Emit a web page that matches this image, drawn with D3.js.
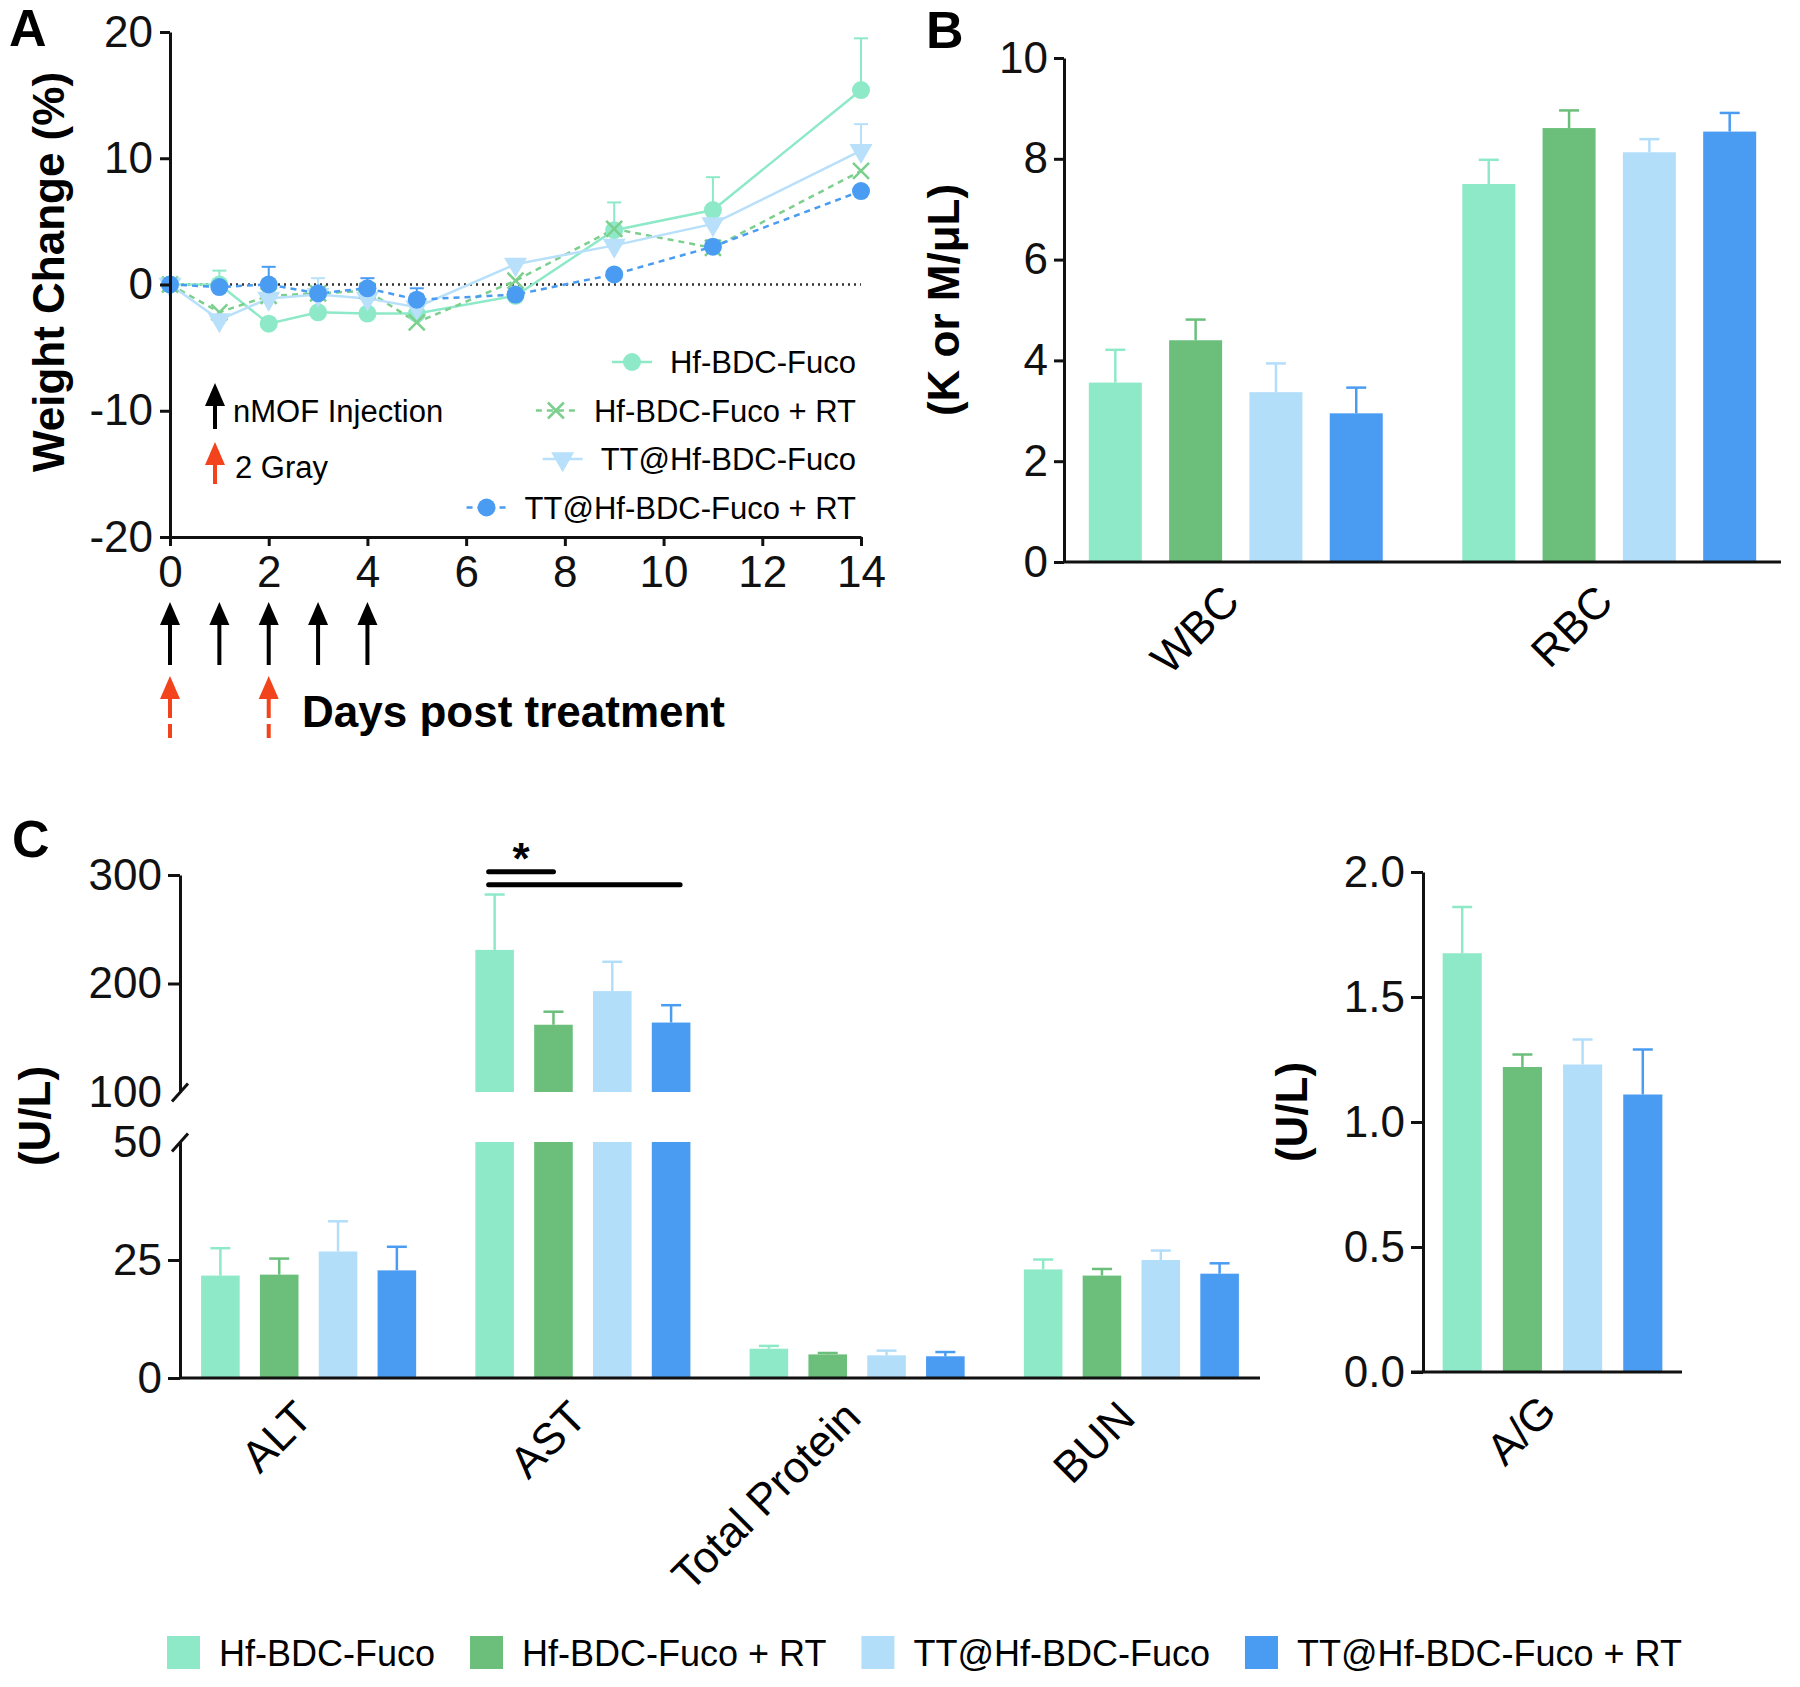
<!DOCTYPE html>
<html>
<head>
<meta charset="utf-8">
<script src="https://cdn.jsdelivr.net/npm/d3@7"></script>
<style>
  body { margin: 0; background: #fff; }
</style>
</head>
<body>
<svg id="chart" width="1800" height="1687"></svg>
<script>
const FONT = '"Liberation Sans", Arial, Helvetica, sans-serif';

const groups = ["Hf-BDC-Fuco", "Hf-BDC-Fuco + RT", "TT@Hf-BDC-Fuco", "TT@Hf-BDC-Fuco + RT"];
const groupColors = ["#8ee9c8", "#6bbf7b", "#b3defa", "#4a9cf2"];

// A - weight change (%)
const days = [0, 1, 2, 3, 4, 5, 7, 9, 11, 14];
const wtHf = [0, 0, -3.1, -2.2, -2.3, -2.3, -0.9, 4.3, 5.9, 15.4];
const wtHfErr = [0, 1.1, 0, 0, 0, 0, 0, 2.2, 2.6, 4.1];
const wtHfRT = [0, -2.2, -0.9, -0.7, -0.5, -3.0, 0.3, 4.4, 2.9, 9.0];
const wtHfRTErr = [0, 0, 0, 0, 0, 0, 0, 0, 0.6, 0];
const wtTT = [0, -2.8, -1.1, -0.8, -1.1, -1.8, 1.6, 3.1, 4.8, 10.6];
const wtTTErr = [0, 0, 0, 1.3, 0, 0, 0, 0, 0, 2.1];
const wtTTRT = [0, -0.2, 0, -0.7, -0.3, -1.2, -0.8, 0.8, 3.0, 7.4];
const wtTTRTErr = [0, 0, 1.4, 0, 0.8, 0.9, 0, 0, 0, 0];
const weightTicks = [-20, -10, 0, 10, 20];
const dayTicks = [0, 2, 4, 6, 8, 10, 12, 14];
const injectionDays = [0, 1, 2, 3, 4];
const radiationDays = [0, 2];

// B - blood counts (K or M/uL)
const bloodCats = ["WBC", "RBC"];
const bloodHf = [3.56, 7.50], bloodHfErr = [0.65, 0.48];
const bloodHfRT = [4.40, 8.61], bloodHfRTErr = [0.41, 0.35];
const bloodTT = [3.37, 8.13], bloodTTErr = [0.57, 0.26];
const bloodTTRT = [2.95, 8.54], bloodTTRTErr = [0.51, 0.37];
const bloodTicks = [0, 2, 4, 6, 8, 10];

// C - serum chemistry (U/L)
const chemCats = ["ALT", "AST", "Total Protein", "BUN"];
const chemHf = [21.7, 231, 6.2, 23.0], chemHfErr = [5.8, 51, 0.6, 2.1];
const chemHfRT = [21.9, 162, 5.0, 21.7], chemHfRTErr = [3.4, 12, 0.3, 1.4];
const chemTT = [26.8, 193, 4.8, 25.0], chemTTErr = [6.4, 27, 1.0, 2.0];
const chemTTRT = [22.8, 164, 4.6, 22.1], chemTTRTErr = [5.0, 16, 0.9, 2.2];
const chemLowTicks = [0, 25, 50];
const chemHighTicks = [100, 200, 300];

const agCats = ["A/G"];
const agHf = [1.675], agHfErr = [0.185];
const agHfRT = [1.22], agHfRTErr = [0.05];
const agTT = [1.23], agTTErr = [0.10];
const agTTRT = [1.11], agTTRTErr = [0.18];
const agTicks = [0, 0.5, 1.0, 1.5, 2.0];

const svg = d3.select("#chart").attr("font-family", FONT);

function styleAxis(g, size) {
  g.attr("font-family", FONT).attr("font-size", size || 44);
  g.select(".domain").attr("stroke", "#111").attr("stroke-width", 3);
  g.selectAll(".tick line").attr("stroke", "#111").attr("stroke-width", 3);
  g.selectAll(".tick text").attr("fill", "#111");
}

function yTitle(x, y, text) {
  svg.append("text")
    .attr("transform", `translate(${x},${y}) rotate(-90)`)
    .attr("text-anchor", "middle").attr("dominant-baseline", "central")
    .attr("font-size", 44).attr("font-weight", "bold")
    .text(text);
}

function panelLabel(x, y, t) {
  svg.append("text").attr("x", x).attr("y", y)
    .attr("font-size", 52).attr("font-weight", "bold").text(t);
}

function catLabels(g, cats, x0, axisY) {
  g.selectAll("text.cat").data(cats).enter().append("text")
    .attr("class", "cat")
    .attr("transform", d => `translate(${x0(d) + x0.bandwidth() / 2 + 6},${axisY + 42}) rotate(-45)`)
    .attr("text-anchor", "end")
    .attr("font-size", 44)
    .text(d => d);
}

function buildTable(cats, means, errs) {
  return cats.flatMap((c, ci) => groups.map((name, gi) => ({
    cat: c, group: name, gi: gi, v: means[gi][ci], e: errs[gi][ci]
  })));
}

// rects: function(v) -> list of [top, bottom] pixel pairs; topY: function(v) -> px
function drawBars(g, table, x0, x1, rects, topY) {
  const bw = x1.bandwidth();
  table.forEach(d => {
    const x = x0(d.cat) + x1(d.group);
    const col = groupColors[d.gi];
    rects(d.v).forEach(([t, b]) => {
      g.append("rect").attr("x", x).attr("y", t)
        .attr("width", bw).attr("height", b - t).attr("fill", col);
    });
    const cx = x + bw / 2;
    const y1 = topY(d.v), y2 = topY(d.v + d.e);
    g.append("line").attr("x1", cx).attr("x2", cx).attr("y1", y1).attr("y2", y2)
      .attr("stroke", col).attr("stroke-width", 2.5);
    g.append("line").attr("x1", cx - 10).attr("x2", cx + 10).attr("y1", y2).attr("y2", y2)
      .attr("stroke", col).attr("stroke-width", 2.5);
  });
}

function arrow(g, x, yTip, yEnd, color, dashed) {
  g.append("line").attr("x1", x).attr("x2", x).attr("y1", yTip + 18).attr("y2", yEnd)
    .attr("stroke", color).attr("stroke-width", 4)
    .attr("stroke-dasharray", dashed ? "24,6,14,6" : null);
  g.append("path")
    .attr("d", `M${x - 10},${yTip + 23}L${x},${yTip}L${x + 10},${yTip + 23}Z`)
    .attr("fill", color);
}

function marker(g, type, color, x, y) {
  if (type === "circle") {
    g.append("circle").attr("cx", x).attr("cy", y).attr("r", 9).attr("fill", color);
  } else if (type === "cross") {
    g.append("path").attr("d", `M${x - 8},${y - 8}L${x + 8},${y + 8}M${x - 8},${y + 8}L${x + 8},${y - 8}`)
      .attr("stroke", color).attr("stroke-width", 2.5);
  } else {
    g.append("path").attr("d", d3.symbol().type(d3.symbolTriangle).size(230)())
      .attr("transform", `translate(${x},${y}) rotate(180)`).attr("fill", color);
  }
}

// ---------------- Panel A ----------------
const xA = d3.scaleLinear().domain([0, 14]).range([170, 861]);
const yA = d3.scaleLinear().domain([-20, 20]).range([537, 32]);
const gA = svg.append("g");

gA.append("line").attr("x1", xA(0)).attr("x2", xA(14)).attr("y1", yA(0)).attr("y2", yA(0))
  .attr("stroke", "#333").attr("stroke-width", 2.5).attr("stroke-dasharray", "2,4");

const weightSeries = [
  { values: wtHf, err: wtHfErr, color: "#8ee9c8", dash: null, type: "circle" },
  { values: wtHfRT, err: wtHfRTErr, color: "#7ccf8c", dash: "6,5", type: "cross" },
  { values: wtTT, err: wtTTErr, color: "#b8e0fa", dash: null, type: "triangle" },
  { values: wtTTRT, err: wtTTRTErr, color: "#4a9cf2", dash: "6,5", type: "circle" }
];

const line = d3.line().x((d, i) => xA(days[i])).y(d => yA(d));
weightSeries.forEach(s => {
  gA.append("path").datum(s.values).attr("d", line)
    .attr("fill", "none").attr("stroke", s.color).attr("stroke-width", 2.5)
    .attr("stroke-dasharray", s.dash);
});
weightSeries.forEach(s => {
  s.values.forEach((v, i) => {
    if (s.err[i] > 0) {
      const x = xA(days[i]), y1 = yA(v), y2 = yA(v + s.err[i]);
      gA.append("line").attr("x1", x).attr("x2", x).attr("y1", y1).attr("y2", y2)
        .attr("stroke", s.color).attr("stroke-width", 2);
      gA.append("line").attr("x1", x - 7).attr("x2", x + 7).attr("y1", y2).attr("y2", y2)
        .attr("stroke", s.color).attr("stroke-width", 2);
    }
  });
});
weightSeries.forEach(s => {
  s.values.forEach((v, i) => marker(gA, s.type, s.color, xA(days[i]), yA(v)));
});

gA.append("g").attr("transform", `translate(${xA(0)},0)`)
  .call(d3.axisLeft(yA).tickValues(weightTicks).tickFormat(d => String(d))
    .tickSize(10).tickSizeOuter(0).tickPadding(7))
  .call(g => styleAxis(g, 44));
gA.append("g").attr("transform", `translate(0,${yA(-20)})`)
  .call(d3.axisBottom(xA).tickValues(dayTicks).tickSize(9).tickSizeOuter(0).tickPadding(10))
  .call(g => styleAxis(g, 44));

yTitle(48, 272, "Weight Change (%)");
panelLabel(9, 46, "A");

// legend inside A
weightSeries.forEach((s, i) => {
  const y = 362 + i * 48.5;
  const t = gA.append("text").attr("x", 856).attr("y", y + 11)
    .attr("text-anchor", "end").attr("font-size", 31).text(groups[i]);
  const mx = 856 - t.node().getComputedTextLength() - 38;
  gA.append("line").attr("x1", mx - 20).attr("x2", mx + 20).attr("y1", y).attr("y2", y)
    .attr("stroke", s.color).attr("stroke-width", 2.5).attr("stroke-dasharray", s.dash);
  marker(gA, s.type, s.color, mx, y);
});

// treatment annotations
arrow(gA, 215, 383, 429, "#000", false);
gA.append("text").attr("x", 233).attr("y", 422).attr("font-size", 31).text("nMOF Injection");
arrow(gA, 215, 442, 485, "#f2431c", true);
gA.append("text").attr("x", 235).attr("y", 478).attr("font-size", 31).text("2 Gray");

injectionDays.forEach(d => arrow(gA, xA(d), 602, 665, "#000", false));
radiationDays.forEach(d => arrow(gA, xA(d), 676, 740, "#f2431c", true));
gA.append("text").attr("x", 302).attr("y", 727)
  .attr("font-size", 44).attr("font-weight", "bold").text("Days post treatment");

// ---------------- Panel B ----------------
const yB = d3.scaleLinear().domain([0, 10]).range([562, 58]);
const x0B = d3.scaleBand().domain(bloodCats).range([1064, 1781]).paddingInner(0.2).paddingOuter(0.06);
const x1B = d3.scaleBand().domain(groups).range([0, x0B.bandwidth()]).paddingInner(0.34).paddingOuter(0.03);
const gB = svg.append("g");
const bloodTable = buildTable(bloodCats,
  [bloodHf, bloodHfRT, bloodTT, bloodTTRT],
  [bloodHfErr, bloodHfRTErr, bloodTTErr, bloodTTRTErr]);
drawBars(gB, bloodTable, x0B, x1B, v => [[yB(v), yB(0)]], v => yB(v));

gB.append("g").attr("transform", "translate(1064,0)")
  .call(d3.axisLeft(yB).tickValues(bloodTicks).tickSize(10).tickSizeOuter(0).tickPadding(6))
  .call(g => styleAxis(g, 44));
gB.append("line").attr("x1", 1064).attr("x2", 1781).attr("y1", yB(0)).attr("y2", yB(0))
  .attr("stroke", "#111").attr("stroke-width", 3);
catLabels(gB, bloodCats, x0B, yB(0));
yTitle(943, 300, "(K or M/\u03bcL)");
panelLabel(926, 48, "B");

// ---------------- Panel C (broken axis) ----------------
const yLow = d3.scaleLinear().domain([0, 50]).range([1378, 1142]);
const yHigh = d3.scaleLinear().domain([100, 300]).range([1092, 875]);
const x0C = d3.scaleBand().domain(chemCats).range([180, 1260]).paddingInner(0.2).paddingOuter(0.069);
const x1C = d3.scaleBand().domain(groups).range([0, x0C.bandwidth()]).paddingInner(0.344).paddingOuter(0.037);
const gC = svg.append("g");
const chemTable = buildTable(chemCats,
  [chemHf, chemHfRT, chemTT, chemTTRT],
  [chemHfErr, chemHfRTErr, chemTTErr, chemTTRTErr]);
const chemY = v => (v <= 50 ? yLow(v) : yHigh(v));
drawBars(gC, chemTable, x0C, x1C,
  v => (v <= 50 ? [[yLow(v), yLow(0)]] : [[yLow(50), yLow(0)], [yHigh(v), yHigh(100)]]),
  chemY);

function breakTicks(g) {
  g.selectAll(".tick").filter(d => d === 50 || d === 100).select("line")
    .attr("x1", -8).attr("y1", 9).attr("x2", 8).attr("y2", -9);
}
gC.append("g").attr("transform", "translate(180,0)")
  .call(d3.axisLeft(yLow).tickValues(chemLowTicks).tickSize(12).tickSizeOuter(0).tickPadding(6))
  .call(g => styleAxis(g, 44)).call(breakTicks);
gC.append("g").attr("transform", "translate(180,0)")
  .call(d3.axisLeft(yHigh).tickValues(chemHighTicks).tickSize(12).tickSizeOuter(0).tickPadding(6))
  .call(g => styleAxis(g, 44)).call(breakTicks);
gC.append("line").attr("x1", 180).attr("x2", 1260).attr("y1", yLow(0)).attr("y2", yLow(0))
  .attr("stroke", "#111").attr("stroke-width", 3);
catLabels(gC, chemCats, x0C, yLow(0));
yTitle(34, 1116, "(U/L)");
panelLabel(12, 857, "C");

// significance on AST
const astX = i => x0C("AST") + x1C(groups[i]) + x1C.bandwidth() / 2;
gC.append("line").attr("x1", astX(0) - 6).attr("x2", astX(1)).attr("y1", yHigh(303)).attr("y2", yHigh(303))
  .attr("stroke", "#000").attr("stroke-width", 5).attr("stroke-linecap", "round");
gC.append("line").attr("x1", astX(0) - 6).attr("x2", astX(3) + 9).attr("y1", yHigh(291)).attr("y2", yHigh(291))
  .attr("stroke", "#000").attr("stroke-width", 5).attr("stroke-linecap", "round");
gC.append("text").attr("x", (astX(0) + astX(1)) / 2 - 3).attr("y", yHigh(303) + 2)
  .attr("text-anchor", "middle").attr("font-size", 44).attr("font-weight", "bold").text("*");

// A/G
const yAG = d3.scaleLinear().domain([0, 2]).range([1372, 872]);
const x0AG = d3.scaleBand().domain(agCats).range([1423, 1682]).paddingInner(0).paddingOuter(0.083);
const x1AG = d3.scaleBand().domain(groups).range([0, x0AG.bandwidth()]).paddingInner(0.35).paddingOuter(0.02);
const gAG = svg.append("g");
const agTable = buildTable(agCats, [agHf, agHfRT, agTT, agTTRT], [agHfErr, agHfRTErr, agTTErr, agTTRTErr]);
drawBars(gAG, agTable, x0AG, x1AG, v => [[yAG(v), yAG(0)]], v => yAG(v));
gAG.append("g").attr("transform", "translate(1423,0)")
  .call(d3.axisLeft(yAG).tickValues(agTicks).tickFormat(d3.format(".1f"))
    .tickSize(12).tickSizeOuter(0).tickPadding(6))
  .call(g => styleAxis(g, 44));
gAG.append("line").attr("x1", 1411).attr("x2", 1682).attr("y1", yAG(0)).attr("y2", yAG(0))
  .attr("stroke", "#111").attr("stroke-width", 3);
catLabels(gAG, agCats, x0AG, yAG(0));
yTitle(1291, 1112, "(U/L)");

// ---------------- bottom legend ----------------
const gL = svg.append("g");
let lx = 167;
groups.forEach((name, i) => {
  gL.append("rect").attr("x", lx).attr("y", 1636).attr("width", 33).attr("height", 33)
    .attr("fill", groupColors[i]);
  const t = gL.append("text").attr("x", lx + 52).attr("y", 1666).attr("font-size", 36).text(name);
  lx += 52 + t.node().getComputedTextLength() + 35;
});
</script>
</body>
</html>
